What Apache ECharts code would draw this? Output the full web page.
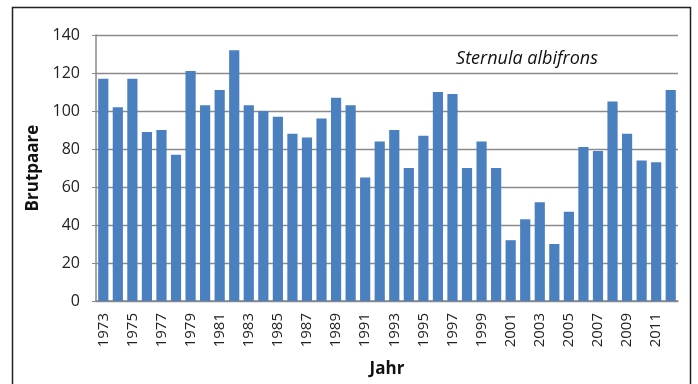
<!DOCTYPE html>
<html>
<head>
<meta charset="utf-8">
<script src="https://cdn.jsdelivr.net/npm/echarts@6/dist/echarts.min.js"></script>
<style>html,body{margin:0;padding:0;background:#fff}#c{width:698px;height:384px}</style>
</head>
<body>
<div id="c"></div>
<script>
const years = [];
for (let y = 1973; y <= 2012; y++) years.push(String(y));
const brutpaare = [117,102,117,89,90,77,121,103,111,132,103,100,97,88,86,96,107,103,65,84,90,70,87,110,109,70,84,70,32,43,52,30,47,81,79,105,88,74,73,111];
const yTicks = [0,20,40,60,80,100,120,140];
const titleText = 'Sternula albifrons';
const yName = 'Brutpaare';
const xName = 'Jahr';

const chart = echarts.init(document.getElementById('c'), null, {renderer:'canvas'});
const font = '"Open Sans", sans-serif';
chart.setOption({
  animation: false,
  backgroundColor: '#fff',
  graphic: [
    {type:'rect', shape:{x:12.5,y:7.5,width:678,height:400}, style:{fill:null, stroke:'#222', lineWidth:1.5}, z:-1}
  ],
  title: {
    text: titleText, left: 522, top: 45, textAlign: 'center',
    textStyle: {fontFamily: font, fontStyle:'italic', fontWeight:'normal', fontSize:18, color:'#111'}
  },
  grid: {left: 96, right: 20, top: 35, bottom: 83, containLabel: false, outerBoundsMode: 'none'},
  xAxis: {
    type: 'category', data: years,
    name: xName, nameLocation: 'middle', nameGap: 60,
    nameTextStyle: {fontFamily: font, fontWeight:'bold', fontSize:17, color:'#111'},
    axisLine: {lineStyle:{color:'#888', width:1.5}},
    axisTick: {show:false},
    axisLabel: {interval:1, rotate:90, margin:12, fontFamily: font, fontSize:15, color:'#222'}
  },
  yAxis: {
    type: 'value', min: yTicks[0], max: yTicks[yTicks.length-1], interval: 20,
    name: yName, nameLocation: 'middle', nameGap: 52,
    nameTextStyle: {fontFamily: font, fontWeight:'bold', fontSize:17, color:'#111'},
    axisLine: {show:true, lineStyle:{color:'#888', width:1.5}},
    axisTick: {show:true, length:4, lineStyle:{color:'#888'}},
    axisLabel: {margin:16, fontFamily: font, fontSize:16, color:'#222'},
    splitLine: {lineStyle:{color:'#8a8a8a', width:1.3}}
  },
  series: [{
    type: 'bar', data: brutpaare, barCategoryGap: '30%',
    itemStyle: {color: '#4a7fc0'}
  }]
});
</script>
</body>
</html>
